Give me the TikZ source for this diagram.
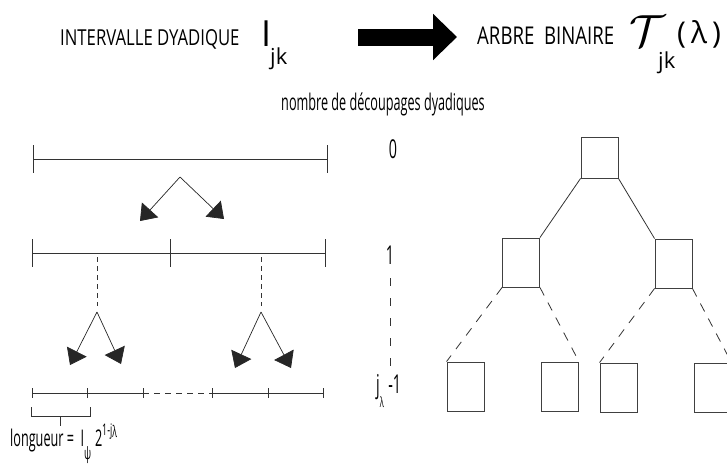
\documentclass[tikz,border=0pt]{standalone}
\usepackage{fontspec}
\setmainfont{Open Sans}
\newfontfamily\hdfont[FakeStretch=0.76]{Open Sans}
\newfontfamily\condfont[FakeStretch=0.55]{Open Sans}
\usetikzlibrary{arrows.meta, positioning}

\begin{document}
\begin{tikzpicture}[x=1pt, y=-1pt,
    lbl/.style={inner sep=0pt, anchor=base west},
    cond/.style={inner sep=0pt, font=\condfont\fontsize{#1}{#1}\selectfont},
    ivl/.style={line width=1pt, black!80},
    split/.style={line width=0.7pt, black!85, -{Triangle[width=22pt,length=15pt]}},
    box/.style={draw, black!75, line width=0.9pt, minimum width=37pt, minimum height=49pt, inner sep=0pt},
    tdash/.style={black!80, line width=0.8pt, dash pattern=on 9pt off 8pt}]
  \useasboundingbox (0,0) rectangle (727,464);
  % titre
  \node[lbl, font=\hdfont\fontsize{22}{22}\selectfont] (intv) at (60,45) {INTERVALLE DYADIQUE};
  \node[lbl, font=\fontsize{36}{36}\selectfont] (Ijk) at (261,46) {I};
  \node[lbl, font=\fontsize{22}{22}\selectfont] (jkI) at (270,64) {jk};
  \coordinate (arrS) at (358,37);
  \coordinate (arrE) at (457,37);
  \draw[line width=17pt, -{Triangle[width=45pt,length=24pt]}] (arrS) -- (arrE);
  \node[lbl, font=\hdfont\fontsize{24.5}{24}\selectfont] (arbre) at (477,44) {ARBRE\ \ BINAIRE};
  \node[lbl] (Tjk) at (629,46) {\scalebox{4.5}{$\mathcal{T}$}};
  \node[lbl, font=\fontsize{22}{22}\selectfont] (jkT) at (658,68) {jk};
  \node[lbl, font=\fontsize{30}{30}\selectfont] (lam) at (677,43) {(\,λ\,)};
  % niveaux
  \node[cond=23, anchor=base] (ndec) at (383,110) {nombre de découpages dyadiques};
  \node[cond=26, anchor=base] (lev0) at (393,158) {0};
  \node[cond=26, anchor=base] (lev1) at (390,264) {1};
  \node[cond=26, anchor=base west] (jlam) at (376,393) {j\raisebox{-14pt}{\fontsize{14}{14}\selectfont λ}\,-1};
  \draw[ivl, dash pattern=on 8pt off 12pt] ([yshift=-14pt]lev1.south) -- ([yshift=8pt]lev1.south |- jlam.north);
  % intervalles
  \draw[ivl] (33,159) -- (327,159);
  \foreach \x in {33,327} \draw[ivl] (\x,145) -- (\x,173);
  \coordinate (apex0) at (180,177);
  \draw[split] (apex0) -- (140,221);
  \draw[split] (apex0) -- (224,219);
  \draw[ivl] (32,253) -- (325,253);
  \foreach \x in {32,170,325} \draw[ivl] (\x,239) -- (\x,267);
  \foreach \x in {97,261} \draw[ivl, line width=0.7pt, dash pattern=on 5pt off 4pt] (\x,257) -- (\x,306);
  \draw[split] (97,312) -- (70,365);
  \draw[split] (97,312) -- (121,364);
  \draw[split] (261,312) -- (235,368);
  \draw[split] (261,312) -- (291,368);
  \draw[ivl, line width=0.8pt] (32,393) -- (143,393) (212,393) -- (323,393);
  \draw[ivl, line width=0.8pt, dash pattern=on 6pt off 5pt] (143,393) -- (212,393);
  \foreach \x in {32,87,143,212,268,323} \draw[ivl, line width=0.8pt] (\x,388) -- (\x,398);
  \draw[ivl, line width=0.8pt] (31,407) -- (31,416) -- (90,416) -- (90,407) (60,416) -- (60,426);
  \node[cond=23, lbl] (long) at (10,446) {longueur =\ \ I\raisebox{-13pt}{\fontsize{17}{17}\selectfont ψ}\,2\raisebox{11pt}{\fontsize{16}{16}\selectfont 1-j\raisebox{-2pt}{λ}}};
  % arbre
  \node[box, minimum height=41pt] (root) at (599.5,157.5) {};
  \node[box] (lmid) at (521,262.5) {};
  \node[box] (rmid) at (673.5,263.5) {};
  \node[box] (leafA) at (465.5,386.5) {};
  \node[box] (leafB) at (560,386.5) {};
  \node[box] (leafC) at (618.5,387.5) {};
  \node[box] (leafD) at (712.5,387.5) {};
  \draw[black!80, line width=0.8pt] (root.south west) -- (lmid.north east);
  \draw[black!80, line width=0.8pt] (root.south east) -- (rmid.north west);
  \draw[tdash] (lmid.south west) -- (leafA.north west);
  \draw[tdash] (lmid.south east) -- (leafB.north east);
  \draw[tdash] (rmid.south west) -- (leafC.north west);
  \draw[tdash] (rmid.south east) -- (leafD.north east);
\end{tikzpicture}
\end{document}
